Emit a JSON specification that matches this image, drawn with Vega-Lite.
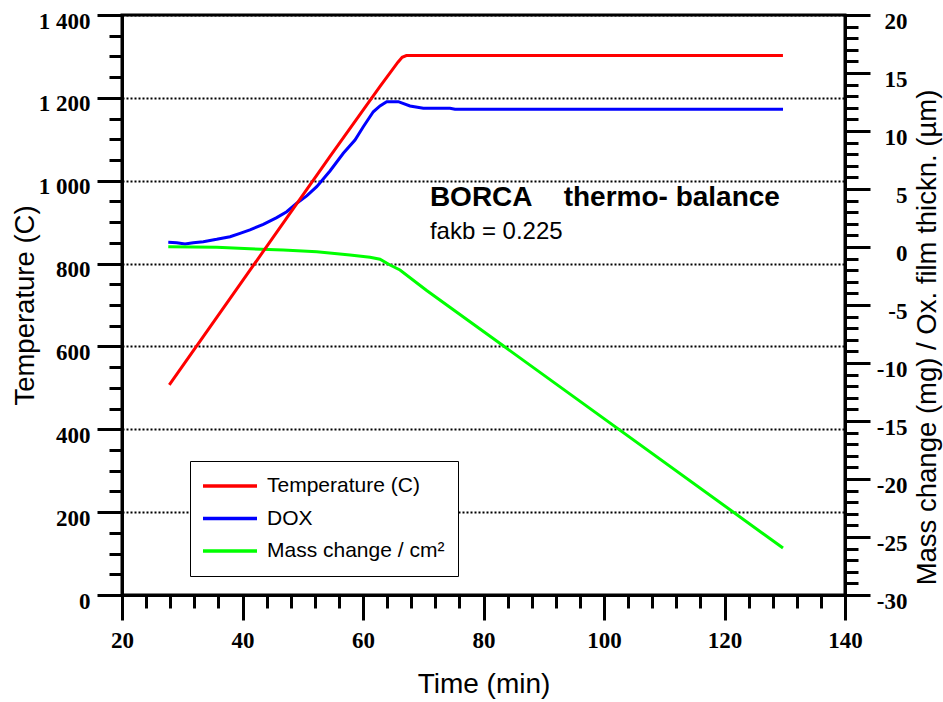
{
  "$schema": "https://vega.github.io/schema/vega-lite/v6.json",
  "width": 723,
  "height": 580,
  "autosize": {"type": "none"},
  "padding": {"left": 122, "top": 15, "right": 98, "bottom": 107},
  "background": "white",
  "data": {
    "values": [
      {"series": "Temperature (C)", "t": 27.85, "v": 507},
      {"series": "Temperature (C)", "t": 54.5, "v": 1058},
      {"series": "Temperature (C)", "t": 62.8, "v": 1227},
      {"series": "Temperature (C)", "t": 65.8, "v": 1286},
      {"series": "Temperature (C)", "t": 66.5, "v": 1298},
      {"series": "Temperature (C)", "t": 67.2, "v": 1302},
      {"series": "Temperature (C)", "t": 129.7, "v": 1302},
      {"series": "DOX", "t": 27.68, "v": 0.41},
      {"series": "DOX", "t": 29.08, "v": 0.37},
      {"series": "DOX", "t": 30.46, "v": 0.26},
      {"series": "DOX", "t": 31.83, "v": 0.37},
      {"series": "DOX", "t": 33.49, "v": 0.46},
      {"series": "DOX", "t": 35.72, "v": 0.66},
      {"series": "DOX", "t": 37.93, "v": 0.89},
      {"series": "DOX", "t": 39.59, "v": 1.18},
      {"series": "DOX", "t": 41.24, "v": 1.47},
      {"series": "DOX", "t": 43.45, "v": 1.96},
      {"series": "DOX", "t": 45.68, "v": 2.53},
      {"series": "DOX", "t": 47.34, "v": 3.04},
      {"series": "DOX", "t": 49.0, "v": 3.77},
      {"series": "DOX", "t": 50.66, "v": 4.4},
      {"series": "DOX", "t": 52.32, "v": 5.2},
      {"series": "DOX", "t": 54.52, "v": 6.55},
      {"series": "DOX", "t": 56.73, "v": 8.08},
      {"series": "DOX", "t": 58.67, "v": 9.22},
      {"series": "DOX", "t": 60.05, "v": 10.37},
      {"series": "DOX", "t": 61.71, "v": 11.66},
      {"series": "DOX", "t": 62.82, "v": 12.16},
      {"series": "DOX", "t": 63.93, "v": 12.53},
      {"series": "DOX", "t": 65.86, "v": 12.53},
      {"series": "DOX", "t": 67.8, "v": 12.16},
      {"series": "DOX", "t": 70.01, "v": 11.96},
      {"series": "DOX", "t": 74.44, "v": 11.96},
      {"series": "DOX", "t": 75.27, "v": 11.87},
      {"series": "DOX", "t": 129.71, "v": 11.87},
      {"series": "Mass change / cm²", "t": 27.68, "v": 0.03},
      {"series": "Mass change / cm²", "t": 35.72, "v": -0.03},
      {"series": "Mass change / cm²", "t": 41.24, "v": -0.15},
      {"series": "Mass change / cm²", "t": 46.77, "v": -0.26},
      {"series": "Mass change / cm²", "t": 52.32, "v": -0.41},
      {"series": "Mass change / cm²", "t": 57.84, "v": -0.69},
      {"series": "Mass change / cm²", "t": 61.16, "v": -0.89},
      {"series": "Mass change / cm²", "t": 62.82, "v": -1.06},
      {"series": "Mass change / cm²", "t": 64.48, "v": -1.55},
      {"series": "Mass change / cm²", "t": 66.14, "v": -1.98},
      {"series": "Mass change / cm²", "t": 70.57, "v": -3.75},
      {"series": "Mass change / cm²", "t": 129.71, "v": -25.95}
    ]
  },
  "layer": [
    {
      "transform": [{"filter": "datum.series !== 'Temperature (C)'"}],
      "mark": {"type": "line", "strokeWidth": 3},
      "encoding": {
        "x": {
          "field": "t", "type": "quantitative",
          "scale": {"domain": [20, 140], "nice": false, "zero": false},
          "axis": {"orient": "bottom", "values": [20,24,28,32,36,40,44,48,52,56,60,64,68,72,76,80,84,88,92,96,100,104,108,112,116,120,124,128,132,136,140], "tickSize": 13, "labels": false, "domain": false, "title": null, "grid": false}
        },
        "y": {
          "field": "v", "type": "quantitative",
          "scale": {"domain": [-30, 20], "nice": false, "zero": false},
          "axis": {"orient": "right", "values": [-30,-25,-20,-15,-10,-5,0,5,10,15,20], "tickSize": 25, "labelAlign": "right", "labelPadding": 37, "labelOffset": 6, "labelExpr": "datum.value < 0 ? '-' + format(-datum.value, 'd') : format(datum.value, 'd')", "title": "Mass change (mg) / Ox. film thickn. (µm)", "titleAngle": 270, "titleX": 90, "titleY": 322, "titleAlign": "center", "titleBaseline": "alphabetic"}
        },
        "color": {
          "field": "series", "type": "nominal",
          "scale": {"domain": ["Temperature (C)", "DOX", "Mass change / cm²"], "range": ["#ff0000", "#0000ff", "#00ff00"]},
          "legend": {"title": null, "orient": "none", "legendX": 68, "legendY": 446, "direction": "vertical", "symbolType": "stroke", "symbolSize": 3025, "symbolStrokeWidth": 3.5, "clipHeight": 24, "rowPadding": 8.5, "padding": 13, "labelFont": "Liberation Sans", "labelFontSize": 21, "labelColor": "black", "labelOffset": 8, "symbolOffset": -3, "fillColor": "white", "strokeColor": "black", "labelLimit": 400}
        }
      }
    },
    {
      "transform": [{"filter": "datum.series === 'Temperature (C)'"}],
      "mark": {"type": "line", "opacity": 0},
      "encoding": {
        "x": {"field": "t", "type": "quantitative", "scale": {"domain": [20, 140], "nice": false, "zero": false}, "axis": null},
        "y": {
          "field": "v", "type": "quantitative",
          "scale": {"domain": [0, 1400], "nice": false, "zero": false},
          "axis": {"orient": "left", "values": [0,50,100,150,200,250,300,350,400,450,500,550,600,650,700,750,800,850,900,950,1000,1050,1100,1150,1200,1250,1300,1350,1400], "tickSize": 13, "labels": false, "domain": false, "title": null, "grid": false}
        }
      }
    },
    {
      "transform": [{"filter": "datum.series !== 'Temperature (C)'"}],
      "mark": {"type": "line", "opacity": 0},
      "encoding": {
        "x": {"field": "t", "type": "quantitative", "scale": {"domain": [20, 140], "nice": false, "zero": false}, "axis": null},
        "y": {
          "field": "v", "type": "quantitative",
          "scale": {"domain": [-30, 20], "nice": false, "zero": false},
          "axis": {"orient": "right", "values": [-30,-29,-28,-27,-26,-25,-24,-23,-22,-21,-20,-19,-18,-17,-16,-15,-14,-13,-12,-11,-10,-9,-8,-7,-6,-5,-4,-3,-2,-1,0,1,2,3,4,5,6,7,8,9,10,11,12,13,14,15,16,17,18,19,20], "tickSize": 13, "labels": false, "domain": false, "title": null, "grid": false}
        }
      }
    },
    {
      "transform": [{"filter": "datum.series === 'Temperature (C)'"}],
      "mark": {"type": "line", "strokeWidth": 3},
      "encoding": {
        "x": {
          "field": "t", "type": "quantitative",
          "scale": {"domain": [20, 140], "nice": false, "zero": false},
          "axis": {"orient": "bottom", "values": [20,40,60,80,100,120,140], "tickSize": 25, "labelPadding": 9, "title": "Time (min)", "titleX": 361.5, "titleY": 97, "titleAlign": "center", "titleBaseline": "alphabetic", "titleFontSize": 28}
        },
        "y": {
          "field": "v", "type": "quantitative",
          "scale": {"domain": [0, 1400], "nice": false, "zero": false},
          "axis": {"orient": "left", "values": [0,200,400,600,800,1000,1200,1400], "tickSize": 25, "labelPadding": 7, "labelOffset": 6, "labelExpr": "replace(format(datum.value, ','), ',', ' ')", "grid": true, "gridColor": "black", "gridDash": [2, 2], "gridWidth": 2, "title": "Temperature (C)", "titleAngle": 270, "titleX": -89, "titleY": 290, "titleAlign": "center", "titleBaseline": "alphabetic"}
        },
        "color": {
          "field": "series", "type": "nominal",
          "scale": {"domain": ["Temperature (C)", "DOX", "Mass change / cm²"], "range": ["#ff0000", "#0000ff", "#00ff00"]},
          "legend": {"title": null, "orient": "none", "legendX": 68, "legendY": 446, "direction": "vertical", "symbolType": "stroke", "symbolSize": 3025, "symbolStrokeWidth": 3.5, "clipHeight": 24, "rowPadding": 8.5, "padding": 13, "labelFont": "Liberation Sans", "labelFontSize": 21, "labelColor": "black", "labelOffset": 8, "symbolOffset": -3, "fillColor": "white", "strokeColor": "black", "labelLimit": 400}
        }
      }
    },
    {
      "data": {"values": [{}]},
      "mark": {"type": "text", "text": "BORCA\u00a0\u00a0\u00a0\u00a0thermo- balance", "font": "Liberation Sans", "fontWeight": "bold", "fontSize": 28, "align": "left", "baseline": "alphabetic", "color": "black"},
      "encoding": {
        "x": {"datum": 71.1, "type": "quantitative", "scale": {"domain": [20, 140], "nice": false, "zero": false}, "axis": null},
        "y": {"datum": 939, "type": "quantitative", "scale": {"domain": [0, 1400], "nice": false, "zero": false}, "axis": null}
      }
    },
    {
      "data": {"values": [{}]},
      "mark": {"type": "text", "text": "fakb = 0.225", "font": "Liberation Sans", "fontSize": 24, "align": "left", "baseline": "alphabetic", "color": "black"},
      "encoding": {
        "x": {"datum": 71.1, "type": "quantitative", "scale": {"domain": [20, 140], "nice": false, "zero": false}, "axis": null},
        "y": {"datum": 859, "type": "quantitative", "scale": {"domain": [0, 1400], "nice": false, "zero": false}, "axis": null}
      }
    }
  ],
  "resolve": {"scale": {"y": "independent"}, "axis": {"x": "independent", "y": "independent"}},
  "config": {
    "view": {"stroke": "black", "strokeWidth": 3},
    "axis": {"domainColor": "black", "domainWidth": 3, "tickColor": "black", "tickWidth": 3, "labelFont": "Liberation Serif", "labelFontWeight": "bold", "labelFontSize": 23, "labelColor": "black", "titleFont": "Liberation Sans", "titleFontWeight": "normal", "titleFontSize": 27.5, "titleColor": "black", "grid": false, "labelFlush": false, "labelOverlap": false, "labelBound": false}
  }
}
